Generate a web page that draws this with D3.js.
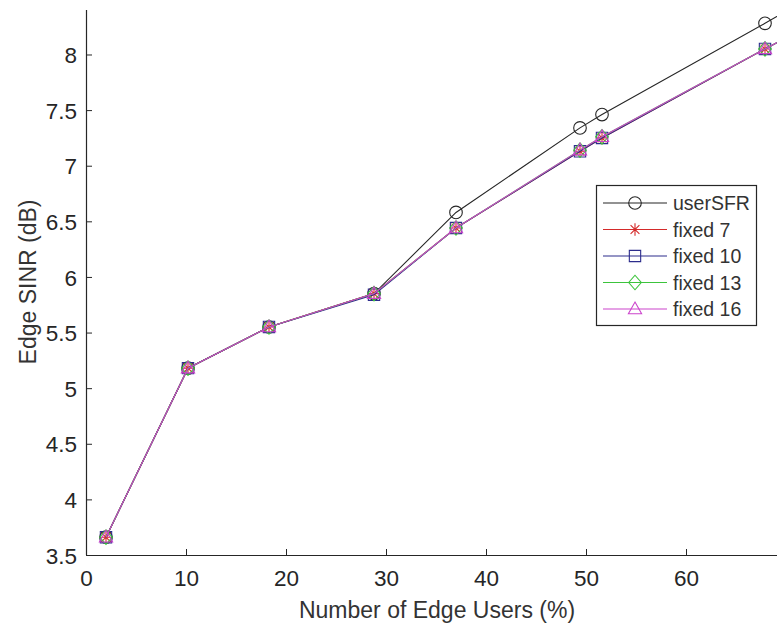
<!DOCTYPE html>
<html>
<head>
<meta charset="utf-8">
<script src="https://cdn.jsdelivr.net/npm/d3@7"></script>
<style>
  html, body { margin: 0; padding: 0; background: #fff; }
  svg { display: block; }
  text { font-family: "Liberation Sans", Arial, sans-serif; fill: #262626; }
</style>
</head>
<body>
<svg id="chart" width="777" height="628"></svg>
<script>
// ---- data ----
const edgeUsers = [2.0, 10.2, 18.3, 28.8, 37.0, 49.4, 51.6, 67.9, 70.0];
const userSFR  = [3.66, 5.18, 5.55, 5.85, 6.58, 7.34, 7.46, 8.28, 8.39];
const fixed7   = [3.66, 5.18, 5.55, 5.85, 6.44, 7.13, 7.25, 8.05, 8.15];
const fixed10  = [3.66, 5.18, 5.55, 5.84, 6.44, 7.13, 7.25, 8.05, 8.15];
const fixed13  = [3.66, 5.18, 5.55, 5.85, 6.44, 7.14, 7.26, 8.05, 8.15];
const fixed16  = [3.66, 5.18, 5.55, 5.85, 6.44, 7.14, 7.26, 8.05, 8.15];
const seriesNames = ["userSFR", "fixed 7", "fixed 10", "fixed 13", "fixed 16"];
const xTicks = [0, 10, 20, 30, 40, 50, 60];
const yTicks = [3.5, 4, 4.5, 5, 5.5, 6, 6.5, 7, 7.5, 8];
const xLabel = "Number of Edge Users (%)";
const yLabel = "Edge SINR (dB)";

(function () {
// ---- styles ----
const seriesStyle = [
  { color: "#262626", marker: "circle" },
  { color: "#d42a2a", marker: "star" },
  { color: "#2c2c8c", marker: "square" },
  { color: "#3cc43c", marker: "diamond" },
  { color: "#cc44cc", marker: "triangle" }
];
const allValues = [userSFR, fixed7, fixed10, fixed13, fixed16];

const svg = d3.select("#chart");
svg.append("rect").attr("width", 777).attr("height", 628).attr("fill", "#fff");

const mLeft = 86, mRight = 786, mTop = 10, mBottom = 555;
const x = d3.scaleLinear().domain([0, 70]).range([mLeft, mRight]);
const y = d3.scaleLinear().domain([3.5, 8.4]).range([mBottom, mTop]);

function markerPath(type, s) {
  switch (type) {
    case "star":
      return `M${-s},0L${s},0M0,${-s}L0,${s}M${-s*0.7},${-s*0.7}L${s*0.7},${s*0.7}M${-s*0.7},${s*0.7}L${s*0.7},${-s*0.7}`;
    case "square":
      return `M${-s*0.9},${-s*0.9}H${s*0.9}V${s*0.9}H${-s*0.9}Z`;
    case "diamond":
      return `M0,${-s*1.15}L${s*1.0},0L0,${s*1.15}L${-s*1.0},0Z`;
    case "triangle":
      return `M0,${-s*1.1}L${s*1.05},${s*0.75}L${-s*1.05},${s*0.75}Z`;
    default:
      return null;
  }
}

function drawMarker(g, type, color, cx, cy, s) {
  if (type === "circle") {
    g.append("circle").attr("cx", cx).attr("cy", cy).attr("r", s)
      .attr("fill", "none").attr("stroke", color).attr("stroke-width", 1.1);
  } else {
    g.append("path").attr("d", markerPath(type, s))
      .attr("transform", `translate(${cx},${cy})`)
      .attr("fill", "none").attr("stroke", color).attr("stroke-width", 1.1);
  }
}

// ---- series ----
const plotG = svg.append("g");
const line = d3.line().x(d => x(d[0])).y(d => y(d[1]));
allValues.forEach((vals, i) => {
  const pts = edgeUsers.map((xv, j) => [xv, vals[j]]);
  const st = seriesStyle[i];
  plotG.append("path").datum(pts).attr("d", line)
    .attr("fill", "none").attr("stroke", st.color).attr("stroke-width", 1.1);
  pts.forEach(p => drawMarker(plotG, st.marker, st.color, x(p[0]), y(p[1]), 6.3));
});

// ---- axes ----
const axisColor = "#262626";
const xAxis = d3.axisBottom(x).tickValues(xTicks).tickSize(-6).tickPadding(10).tickFormat(d3.format("d"));
const yAxis = d3.axisLeft(y).tickValues(yTicks).tickSize(-6).tickPadding(10).tickFormat(d => String(d));

const gx = svg.append("g").attr("transform", `translate(0,${mBottom})`).call(xAxis);
const gy = svg.append("g").attr("transform", `translate(${mLeft},0)`).call(yAxis);
[gx, gy].forEach(g => {
  g.select(".domain").attr("stroke", axisColor).attr("stroke-width", 1.2);
  g.selectAll(".tick line").attr("stroke", axisColor).attr("stroke-width", 1);
  g.selectAll(".tick text").attr("fill", "#333")
    .style("font-family", "'Liberation Sans', Arial, sans-serif").style("font-size", "22.5px");
});
gx.select(".domain").attr("d", `M${mLeft},0.5H${mRight}`);
gy.select(".domain").attr("d", `M0.5,${mBottom}V${mTop}`);
gx.selectAll(".tick text").attr("y", 15).attr("dy", "0.71em");
gy.selectAll(".tick text").attr("x", -9).attr("dy", "0.36em");

svg.append("text").attr("x", 437).attr("y", 618).attr("text-anchor", "middle")
  .style("font-size", "23px").style("fill", "#333").text(xLabel);
svg.append("text").attr("transform", "translate(36,282) rotate(-90)")
  .attr("text-anchor", "middle").style("font-size", "23px").style("fill", "#333").text(yLabel);

// ---- legend ----
const lg = svg.append("g");
lg.append("rect").attr("x", 596.5).attr("y", 185.5).attr("width", 160).attr("height", 140)
  .attr("fill", "#fff").attr("stroke", axisColor).attr("stroke-width", 1.2);
seriesNames.forEach((name, i) => {
  const cy = 203 + i * 26.5;
  const st = seriesStyle[i];
  lg.append("line").attr("x1", 603).attr("x2", 667).attr("y1", cy).attr("y2", cy)
    .attr("stroke", st.color).attr("stroke-width", 1.1);
  drawMarker(lg, st.marker, st.color, 635, cy, 6.3);
  lg.append("text").attr("x", 673).attr("y", cy).attr("dy", "0.36em")
    .style("font-size", "19.5px").style("fill", "#333").text(name);
});
})();
</script>
</body>
</html>
